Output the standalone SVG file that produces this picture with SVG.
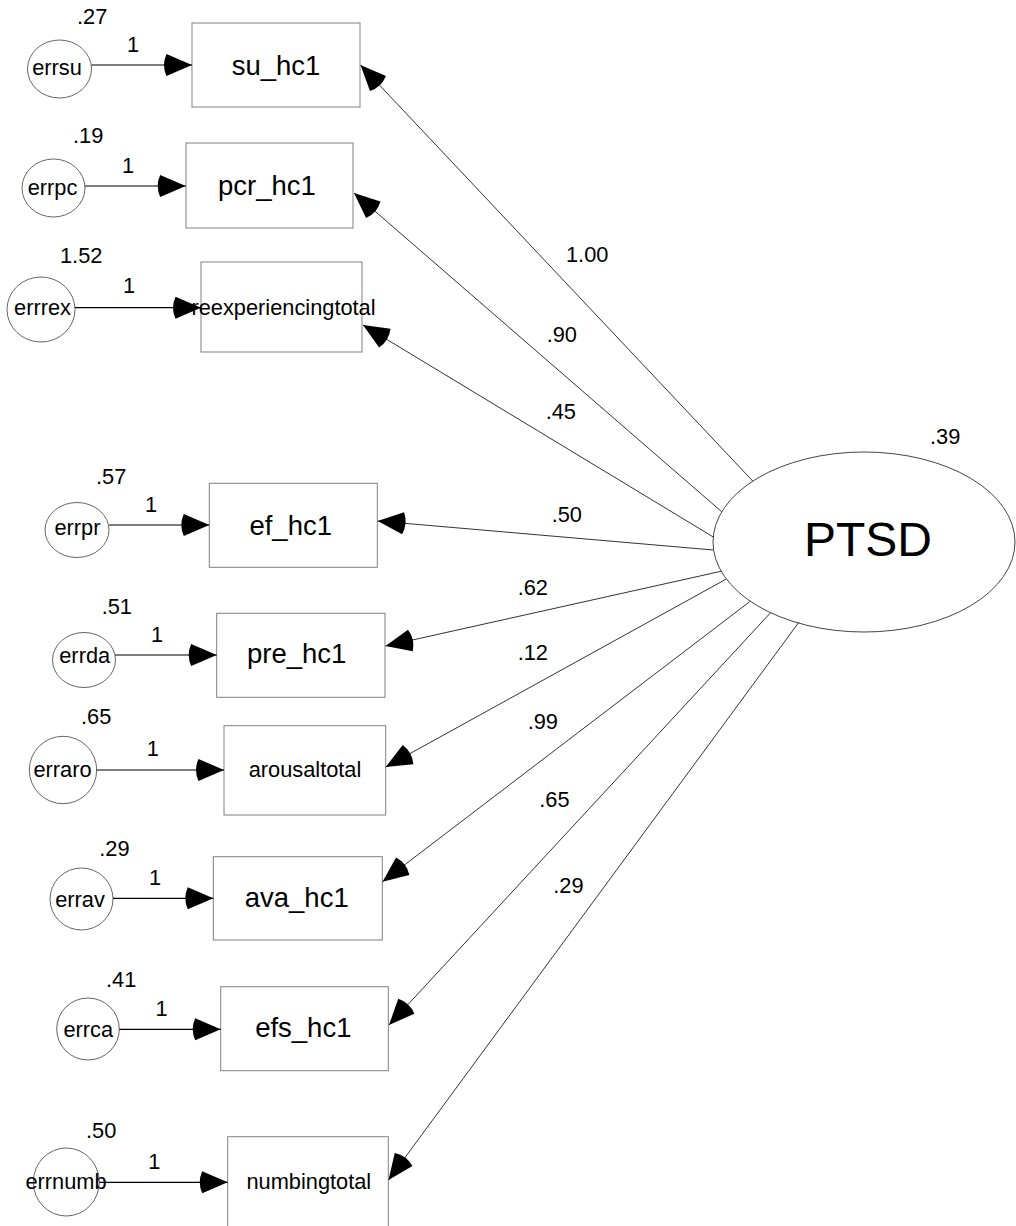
<svg xmlns="http://www.w3.org/2000/svg" width="1016" height="1226" viewBox="0 0 1016 1226">
<defs>
<style>
.box{fill:#fff;stroke:#808080;stroke-width:1}
.err{fill:#fff;stroke:#666;stroke-width:1}
.lat{fill:#fff;stroke:#444;stroke-width:1}
text{font-family:"Liberation Sans",Arial,sans-serif;fill:#000}
.big{font-size:27.5px;text-anchor:middle}
.sm{font-size:21.8px;text-anchor:middle}
.num{font-size:21.8px}
.ptsd{font-size:48px;text-anchor:middle}
.c1{stroke:#000;stroke-width:1.2;fill:none;marker-end:url(#ah)}
.c2{stroke:#333;stroke-width:1;fill:none;marker-end:url(#ah)}
</style>
<marker id="ah" markerUnits="userSpaceOnUse" markerWidth="40" markerHeight="30" refX="30" refY="15" orient="auto" overflow="visible">
<path d="M30,15 L4.5,4 Q-0.5,15 4.5,26 Z" fill="#000"/>
</marker>
</defs>
<rect width="1016" height="1226" fill="#fff"/>

<g id="PTSD">
<ellipse class="lat" cx="864" cy="542" rx="151" ry="90"/>
<text class="ptsd" x="868" y="556">PTSD</text>
<text class="num" x="930" y="444">.39</text>
</g>

<g id="su_hc1"><rect class="box" x="192" y="23" width="168" height="84"/><text class="big" x="276" y="75">su_hc1</text></g>
<g id="pcr_hc1"><rect class="box" x="186" y="143" width="167" height="85"/><text class="big" x="267" y="195">pcr_hc1</text></g>
<g id="reexperiencingtotal"><rect class="box" x="201" y="262" width="161" height="90"/><text class="sm" x="283.5" y="315">reexperiencingtotal</text></g>
<g id="ef_hc1"><rect class="box" x="209.3" y="483.3" width="168" height="84"/><text class="big" x="290.7" y="535">ef_hc1</text></g>
<g id="pre_hc1"><rect class="box" x="216.7" y="613.3" width="168.3" height="84"/><text class="big" x="296.7" y="663.3">pre_hc1</text></g>
<g id="arousaltotal"><rect class="box" x="224" y="725.7" width="161.7" height="89.3"/><text class="sm" x="305" y="777.3">arousaltotal</text></g>
<g id="ava_hc1"><rect class="box" x="213.3" y="856.7" width="169" height="83.3"/><text class="big" x="296.7" y="907.3">ava_hc1</text></g>
<g id="efs_hc1"><rect class="box" x="220.7" y="986.7" width="167.6" height="84"/><text class="big" x="303.3" y="1036.7">efs_hc1</text></g>
<g id="numbingtotal"><rect class="box" x="227.7" y="1136.7" width="160.6" height="91"/><text class="sm" x="308.8" y="1189.3">numbingtotal</text></g>

<g id="errsu"><ellipse class="err" cx="59.5" cy="69" rx="32" ry="29"/><text class="sm" x="57" y="75">errsu</text><text class="num" x="77" y="24">.27</text></g>
<g id="errpc"><ellipse class="err" cx="53.5" cy="188" rx="31.5" ry="29"/><text class="sm" x="52.5" y="195">errpc</text><text class="num" x="73" y="143">.19</text></g>
<g id="errrex"><ellipse class="err" cx="41" cy="309.5" rx="34" ry="32.5"/><text class="sm" x="42.5" y="315">errrex</text><text class="num" x="60" y="263">1.52</text></g>
<g id="errpr"><ellipse class="err" cx="77" cy="530" rx="32" ry="27.5"/><text class="sm" x="77.5" y="535">errpr</text><text class="num" x="96" y="484">.57</text></g>
<g id="errda"><ellipse class="err" cx="84" cy="660" rx="31.5" ry="27.5"/><text class="sm" x="84.7" y="663.3">errda</text><text class="num" x="101.7" y="614">.51</text></g>
<g id="erraro"><ellipse class="err" cx="63" cy="770" rx="33.7" ry="33.7"/><text class="sm" x="62.5" y="777.3">erraro</text><text class="num" x="81" y="724.3">.65</text></g>
<g id="errav"><ellipse class="err" cx="81.5" cy="899" rx="31.5" ry="31"/><text class="sm" x="80" y="907.3">errav</text><text class="num" x="99.3" y="855.7">.29</text></g>
<g id="errca"><ellipse class="err" cx="88" cy="1029" rx="31.3" ry="31"/><text class="sm" x="88.3" y="1036.7">errca</text><text class="num" x="106" y="987.3">.41</text></g>
<g id="errnumb"><ellipse class="err" cx="66.3" cy="1182" rx="33" ry="34"/><text class="sm" x="66" y="1189.3">errnumb</text><text class="num" x="86" y="1137.7">.50</text></g>

<g id="connectors">
<line class="c1" x1="91.5" y1="65" x2="192" y2="65"/>
<line class="c1" x1="85" y1="186" x2="185.7" y2="186"/>
<line class="c1" x1="75" y1="307.7" x2="201" y2="307.7"/>
<line class="c1" x1="109" y1="525" x2="209.3" y2="525"/>
<line class="c1" x1="115" y1="655" x2="216.7" y2="655"/>
<line class="c1" x1="96.7" y1="770" x2="224" y2="770"/>
<line class="c1" x1="113" y1="898.3" x2="213.3" y2="898.3"/>
<line class="c1" x1="119.3" y1="1029.3" x2="220.7" y2="1029.3"/>
<line class="c1" x1="99.3" y1="1182.3" x2="227.7" y2="1182.3"/>

<line class="c2" x1="752.7" y1="481" x2="360.5" y2="65"/>
<line class="c2" x1="721.7" y1="511.7" x2="354" y2="193"/>
<line class="c2" x1="713.3" y1="537" x2="363" y2="325"/>
<line class="c2" x1="713.3" y1="550" x2="377.7" y2="521"/>
<line class="c2" x1="721" y1="571.3" x2="385.5" y2="646"/>
<line class="c2" x1="726" y1="579.2" x2="385.7" y2="767"/>
<line class="c2" x1="749.7" y1="601.7" x2="382.5" y2="881.7"/>
<line class="c2" x1="770.3" y1="613" x2="389" y2="1025"/>
<line class="c2" x1="798.8" y1="622.3" x2="388.5" y2="1180"/>

<text class="num" x="127" y="52">1</text>
<text class="num" x="122" y="173">1</text>
<text class="num" x="123" y="293">1</text>
<text class="num" x="145" y="512.3">1</text>
<text class="num" x="151" y="641.7">1</text>
<text class="num" x="146.7" y="756">1</text>
<text class="num" x="149" y="885">1</text>
<text class="num" x="155.5" y="1015.7">1</text>
<text class="num" x="148.3" y="1169.3">1</text>

<text class="num" x="566" y="261.7">1.00</text>
<text class="num" x="546.7" y="341.7">.90</text>
<text class="num" x="545.7" y="419.3">.45</text>
<text class="num" x="551.7" y="521.7">.50</text>
<text class="num" x="517.7" y="595">.62</text>
<text class="num" x="517.7" y="660">.12</text>
<text class="num" x="527.7" y="729.3">.99</text>
<text class="num" x="539.3" y="807.3">.65</text>
<text class="num" x="553.3" y="892.7">.29</text>
</g>
</svg>
